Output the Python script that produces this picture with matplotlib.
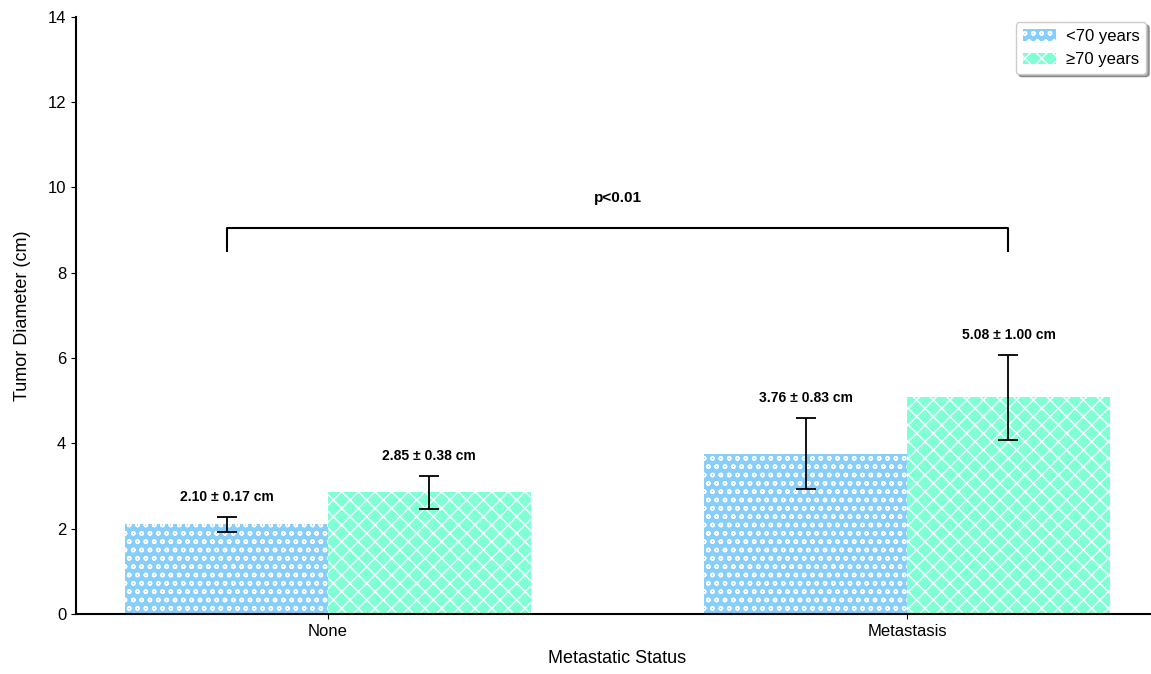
import numpy as np
import matplotlib.pyplot as plt

plt.rcParams['font.family'] = ['Liberation Sans', 'DejaVu Sans']
plt.rcParams['hatch.linewidth'] = 1.0

groups = ['None', 'Metastasis']
age_labels = ['<70 years', '\u226570 years']
means_young = [2.10, 3.76]
sd_young = [0.17, 0.83]
means_old = [2.85, 5.08]
sd_old = [0.38, 1.00]

fig = plt.figure(figsize=(11.51, 6.74), dpi=100)
ax = fig.add_axes([0.066, 0.089, 0.941, 0.886])

x = np.arange(len(groups))
w = 0.35
err_style = dict(elinewidth=1.3, capthick=1.3, ecolor='black')
b1 = ax.bar(x - w / 2, means_young, w, yerr=sd_young, capsize=7,
            color='#87CEFA', edgecolor='white', linewidth=0, hatch='oo',
            error_kw=err_style, label=age_labels[0])
b2 = ax.bar(x + w / 2, means_old, w, yerr=sd_old, capsize=7,
            color='#7FFFD4', edgecolor='white', linewidth=0, hatch='xx',
            error_kw=err_style, label=age_labels[1])

# mean ± sd labels above the error bars
for xs, m, s in [(x - w / 2, means_young, sd_young), (x + w / 2, means_old, sd_old)]:
    for xi, mi, si in zip(xs, m, s):
        ax.text(xi, mi + si + 0.3, f'{mi:.2f} \u00b1 {si:.2f} cm',
                ha='center', va='bottom', fontsize=10, fontweight='bold')

# significance bracket
x1, x2 = x[0] - w / 2, x[1] + w / 2
ax.plot([x1, x1, x2, x2], [8.5, 9.05, 9.05, 8.5], color='black', lw=1.5)
ax.text((x1 + x2) / 2, 9.6, 'p<0.01', ha='center', va='bottom',
        fontsize=11, fontweight='bold')

ax.set_xticks(x)
ax.set_xticklabels(groups, fontsize=12)
ax.set_xlim(-0.435, 1.435)
ax.set_ylim(0, 14)
ax.set_yticks(np.arange(0, 15, 2))
ax.tick_params(axis='y', labelsize=12)
ax.set_xlabel('Metastatic Status', fontsize=13, labelpad=8)
ax.set_ylabel('Tumor Diameter (cm)', fontsize=13, labelpad=12)
ax.spines['top'].set_visible(False)
ax.spines['right'].set_visible(False)
ax.spines['left'].set_linewidth(1.5)
ax.spines['bottom'].set_linewidth(1.5)

ax.legend(loc='upper right', fontsize=12, shadow=True, fancybox=True,
          handlelength=2.0, handletextpad=0.6, borderpad=0.4,
          bbox_to_anchor=(0.996, 1.005))

fig.savefig('out.png', dpi=100)
